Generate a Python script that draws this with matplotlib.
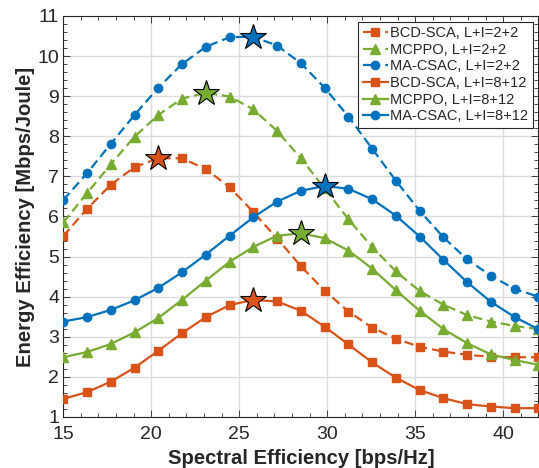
import numpy as np
import matplotlib
matplotlib.use("Agg")
import matplotlib.pyplot as plt
from matplotlib.ticker import MultipleLocator

plt.rcParams['font.family'] = ['Liberation Sans', 'DejaVu Sans']

# Spectral efficiency samples (bps/Hz)
spectral_eff = np.linspace(15, 42, 21)

# Energy efficiency (Mbps/Joule) per scheme and antenna configuration
bcd_sca_2_2 = [5.51, 6.19, 6.79, 7.23, 7.45, 7.45, 7.18, 6.73, 6.11, 5.45, 4.76,
               4.15, 3.63, 3.23, 2.95, 2.75, 2.63, 2.55, 2.50, 2.49, 2.49]
mcppo_2_2 = [5.85, 6.58, 7.30, 7.99, 8.53, 8.94, 9.08, 8.99, 8.67, 8.13, 7.45,
             6.70, 5.93, 5.24, 4.63, 4.14, 3.80, 3.54, 3.38, 3.27, 3.19]
ma_csac_2_2 = [6.41, 7.08, 7.81, 8.53, 9.21, 9.80, 10.23, 10.47, 10.48, 10.26, 9.82,
               9.21, 8.49, 7.69, 6.89, 6.14, 5.48, 4.93, 4.52, 4.19, 4.00]
bcd_sca_8_12 = [1.45, 1.62, 1.88, 2.23, 2.65, 3.09, 3.49, 3.79, 3.92, 3.88, 3.65,
                3.25, 2.81, 2.36, 1.98, 1.67, 1.47, 1.32, 1.26, 1.22, 1.22]
mcppo_8_12 = [2.49, 2.62, 2.82, 3.11, 3.47, 3.92, 4.40, 4.87, 5.24, 5.52, 5.58,
              5.46, 5.15, 4.70, 4.16, 3.65, 3.19, 2.84, 2.56, 2.42, 2.30]
ma_csac_8_12 = [3.38, 3.49, 3.67, 3.91, 4.22, 4.61, 5.05, 5.52, 5.98, 6.37, 6.64,
                6.76, 6.69, 6.43, 6.02, 5.50, 4.92, 4.36, 3.87, 3.49, 3.19]

series_labels = ["BCD-SCA, L+I=2+2", "MCPPO, L+I=2+2", "MA-CSAC, L+I=2+2",
                 "BCD-SCA, L+I=8+12", "MCPPO, L+I=8+12", "MA-CSAC, L+I=8+12"]
series_values = [bcd_sca_2_2, mcppo_2_2, ma_csac_2_2,
                 bcd_sca_8_12, mcppo_8_12, ma_csac_8_12]
# index of the peak point highlighted with a star on each curve
peak_index = [4, 6, 8, 8, 10, 11]

x_ticks = [15, 20, 25, 30, 35, 40]
y_ticks = [1, 2, 3, 4, 5, 6, 7, 8, 9, 10, 11]

orange = "#D95319"
green = "#77AC30"
blue = "#0072BD"
colors = [orange, green, blue, orange, green, blue]
markers = ["s", "^", "o", "s", "^", "o"]
marker_sizes = [5.5, 6.5, 6, 5.5, 6.5, 6]
styles = ["--", "--", "--", "-", "-", "-"]

fig = plt.figure(figsize=(5.39, 4.68), dpi=100)
ax = fig.add_axes([0.1174, 0.109, 0.8816, 0.857])

for vals, lab, c, m, ms, ls in zip(series_values, series_labels, colors,
                                    markers, marker_sizes, styles):
    line, = ax.plot(spectral_eff, vals, color=c, marker=m, markersize=ms,
                    linestyle=ls, linewidth=1.6, label=lab, zorder=3)
    if ls == "--":
        line.set_dashes((4.2, 2.2))

for vals, c, idx in zip(series_values, colors, peak_index):
    ax.plot(spectral_eff[idx], vals[idx], marker="*", markersize=19,
            markerfacecolor=c, markeredgecolor="black", markeredgewidth=0.8,
            linestyle="none", zorder=5)

ax.set_xlim(15, 42)
ax.set_ylim(1, 11)
ax.set_xticks(x_ticks)
ax.set_yticks(y_ticks)
ax.xaxis.set_minor_locator(MultipleLocator(1))
ax.yaxis.set_minor_locator(MultipleLocator(0.2))
ax.tick_params(which="both", direction="in", top=True, right=True,
               labelsize=14, colors="#262626", width=0.6)
ax.tick_params(which="major", length=5)
ax.tick_params(which="minor", length=3)
ax.tick_params(axis="x", which="major", pad=6.5)
ax.tick_params(axis="y", which="major", pad=3)
ax.grid(True, which="major", color="#DCDCDC", linewidth=1.0, zorder=0)
ax.set_axisbelow(True)
for sp in ax.spines.values():
    sp.set_color("#262626")
    sp.set_linewidth(0.8)

ax.set_xlabel("Spectral Efficiency [bps/Hz]", fontsize=14.6, fontweight="bold",
              color="#262626", labelpad=4)
ax.set_ylabel("Energy Efficiency [Mbps/Joule]", fontsize=14.6, fontweight="bold",
              color="#262626", labelpad=2)

leg = ax.legend(loc="upper right", fontsize=10.5, frameon=True, fancybox=False,
                edgecolor="#262626", framealpha=1, handlelength=1.75,
                handletextpad=0.15, borderpad=0.3, labelspacing=0.18,
                borderaxespad=0.4)
leg.get_frame().set_linewidth(0.8)
for t in leg.get_texts():
    t.set_color("#262626")
# show a visible gap in the dashed legend handles
for h, ls in zip(leg.get_lines(), styles):
    if ls == "--":
        h.set_dashes((7.0, 3.0))

fig.savefig("out.png", dpi=100)
